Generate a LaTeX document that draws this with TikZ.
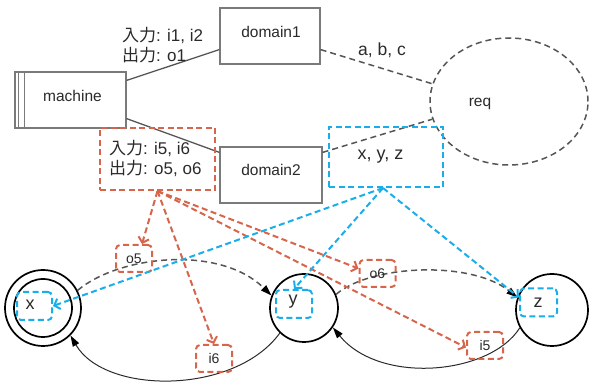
\documentclass[tikz,border=0pt]{standalone}
\usepackage{fontspec}
\setmainfont{Liberation Sans}
\newfontfamily\jp{Noto Sans CJK JP}
\usetikzlibrary{arrows.meta,shapes.geometric,calc}
\definecolor{rd}{HTML}{D6654B}
\definecolor{bl}{HTML}{19AEEA}
\definecolor{gr}{HTML}{555555}
\definecolor{bx}{HTML}{7A7A7A}
\definecolor{tx}{HTML}{2A2A2A}
\begin{document}
\begin{tikzpicture}[x=1pt,y=-1pt,
  box/.style={draw=bx,line width=1.2pt,fill=white,inner sep=0pt},
  nmtext/.style={text=tx,font=\fontsize{15.5}{18}\selectfont,inner sep=0pt},
  lbl/.style={text=tx,font=\fontsize{17}{20}\selectfont,inner sep=0pt},
  small/.style={text=tx,font=\fontsize{14}{16}\selectfont},
  rdash/.style={draw=rd,line width=2pt,dash pattern=on 6pt off 3.5pt},
  bdash/.style={draw=bl,line width=2pt,dash pattern=on 6pt off 3.5pt},
  gdash/.style={draw=gr,line width=1.5pt,dash pattern=on 6pt off 4pt},
  rtag/.style={rdash,rounded corners=4pt,minimum width=36pt,minimum height=27pt,inner sep=0pt,small},
  btag/.style={bdash,rounded corners=4pt,minimum width=36pt,minimum height=28pt,inner sep=0pt},
  state/.style={circle,draw=black,line width=1.7pt,inner sep=0pt},
  rarrow/.style={rdash,-{Straight Barb[length=5pt,width=11pt]}},
  barrow/.style={bdash,-{Straight Barb[length=5pt,width=11pt]}},
  garrow/.style={gdash,-{Triangle[length=11pt,width=7pt,black]}},
  sarrow/.style={draw=tx,line width=1pt,-{Triangle[length=11pt,width=7pt,black]}}
]
\useasboundingbox (0,0) rectangle (590,382);

% top part
\node[box,minimum width=111pt,minimum height=56pt] (m) at (70.5,100) {};
\draw[bx,line width=1.2pt] ([xshift=4pt]m.north west) -- ([xshift=4pt]m.south west);
\draw[bx,line width=1.2pt] ([xshift=10pt]m.north west) -- ([xshift=10pt]m.south west);
\node[nmtext] at ($(m.center)+(2,-4)$) {machine};

\node[box,minimum width=100pt,minimum height=56pt] (d1) at (270,36) {};
\node[nmtext] at ($(d1.center)+(1,-4)$) {domain1};
\node[box,minimum width=102pt,minimum height=56pt] (d2) at (271,175) {};
\node[nmtext] at ($(d2.center)+(0,-5)$) {domain2};

\node[ellipse,gdash,minimum width=158pt,minimum height=127pt,inner sep=0pt] (req) at (509,101.5) {};
\node[nmtext] at ($(req.center)+(-29,2)$) {req};

\draw[gr,line width=1.3pt] ([yshift=-9pt]m.north east) -- ([yshift=15pt]d1.south west);
\draw[gr,line width=1.3pt] ([yshift=10pt]m.south east) -- ([yshift=-6pt]d2.north west);
\draw[gdash] ([yshift=15pt]d1.south east) -- (req.167);
\draw[gdash] ([yshift=-6pt]d2.north east) -- (req.193);

\node[lbl,align=left,anchor=north west] (l1) at (122,27) {{\jp 入力}: i1, i2\\{\jp 出力}: o1};
\node[lbl,font=\fontsize{17.5}{20}\selectfont] (abc) at (382,50) {a, b, c};

\node[rdash,minimum width=115pt,minimum height=62pt,inner sep=0pt] (rb) at (157.5,159) {};
\node[lbl,align=left,anchor=west] at (109,158) {{\jp 入力}: i5, i6\\{\jp 出力}: o5, o6};

\node[bdash,minimum width=114pt,minimum height=60pt,inner sep=0pt] (bb) at (386,157) {};
\node[lbl,font=\fontsize{18}{20}\selectfont] at (380.5,157) {x, y, z};

% states
\node[state,minimum size=76pt] (xo) at (43,308) {};
\node[state,minimum size=58pt] (xi) at (43,308) {};
\node[state,minimum size=68pt] (yc) at (304,308) {};
\node[state,minimum size=72pt] (zc) at (552,310) {};

\node[btag,minimum width=35pt] (xb) at (34.5,306) {};
\node[lbl,font=\fontsize{18}{20}\selectfont] at (30,305) {x};
\node[btag] (yb) at (294,304) {};
\node[lbl,font=\fontsize{18}{20}\selectfont] at (293,302) {y};
\node[btag,minimum width=37pt] (zb) at (538.5,302.5) {};
\node[lbl,font=\fontsize{18}{20}\selectfont] at (538,303) {z};

% transitions
\draw[garrow] (xo.27) .. controls (120,255) and (220,245) .. (yc.159);
\draw[garrow] (yc.23) .. controls (370,265) and (470,260) .. (zc.160);
\draw[sarrow] (zc.209) .. controls (490,375) and (380,385) .. (yc.326);
\draw[sarrow] (yc.226) .. controls (235,395) and (105,395) .. (xo.315);

% tags
\node[rtag] (o5) at (134,258.5) {o5};
\node[rtag] (o6) at (377.5,273.5) {o6};
\node[rtag] (i6) at (214,358.5) {i6};
\node[rtag] (i5) at (485,345.5) {i5};

% red arrows
\draw[rarrow] (rb.south) -- ([xshift=8pt]o5.north);
\draw[rarrow] (rb.south) -- (i6.north);
\draw[rarrow] (rb.south) -- ([yshift=5pt]o6.west);
\draw[rarrow] (rb.south) -- ([yshift=-2pt]i5.west);

% blue arrows
\draw[barrow] ([xshift=-3pt]bb.south) -- (xb.east);
\draw[barrow] ([xshift=-3pt]bb.south) -- (yb.north);
\draw[barrow] ([xshift=-3pt]bb.south) -- ([yshift=5pt]zb.west);
\end{tikzpicture}
\end{document}
